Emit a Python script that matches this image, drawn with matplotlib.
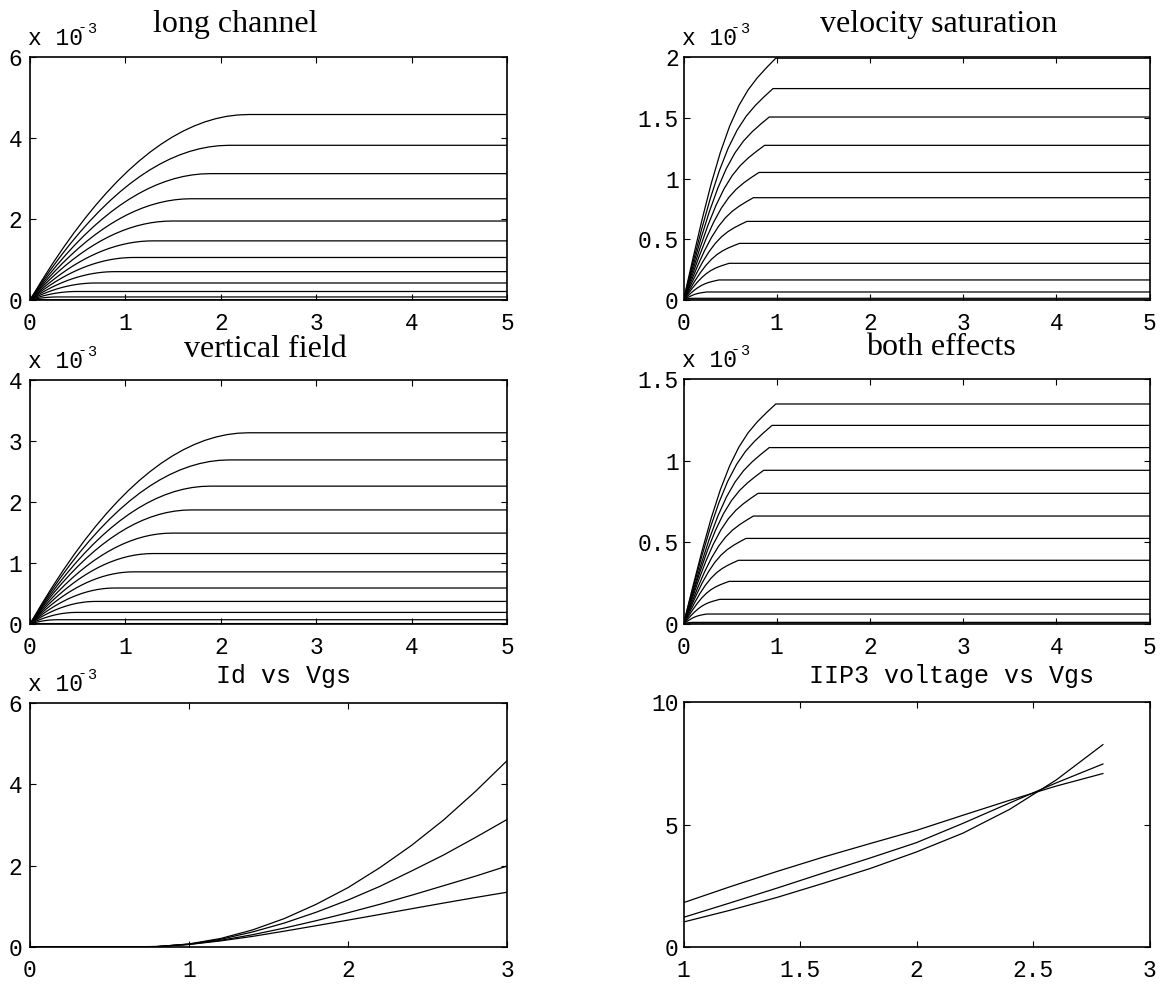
import numpy as np
import matplotlib
matplotlib.use('Agg')
import matplotlib.pyplot as plt
from matplotlib.ticker import MultipleLocator, FuncFormatter
from matplotlib.transforms import offset_copy

MONO = ['Liberation Mono', 'DejaVu Sans Mono']
SERIF = ['Liberation Serif', 'DejaVu Serif']
plt.rcParams['font.family'] = MONO

# gate voltages of the curve family (V)
vgs = [0.0, 0.2, 0.4, 0.6, 0.8, 1.0, 1.2, 1.4, 1.6, 1.8, 2.0, 2.2, 2.4, 2.6, 2.8, 3.0]

# saturation current at each Vgs (x 1e-3 A)
id_long = [0, 0, 0, 0, 0.01, 0.075, 0.21, 0.42, 0.70, 1.05, 1.46, 1.95, 2.50, 3.12, 3.82, 4.58]
id_vert = [0, 0, 0, 0, 0.007, 0.07, 0.19, 0.37, 0.59, 0.855, 1.155, 1.49, 1.87, 2.26, 2.69, 3.135]
id_vsat = [0, 0, 0, 0, 0.014, 0.066, 0.165, 0.302, 0.466, 0.647, 0.842, 1.05, 1.273, 1.506, 1.74, 1.99]
id_both = [0, 0, 0, 0, 0.01, 0.061, 0.151, 0.261, 0.39, 0.524, 0.661, 0.80, 0.941, 1.08, 1.216, 1.347]

# Vds where each curve goes flat (V)
knee_long = [0, 0, 0, 0, 0.09, 0.29, 0.49, 0.69, 0.89, 1.09, 1.29, 1.49, 1.69, 1.89, 2.09, 2.29]
knee_vert = knee_long
knee_vsat = [0, 0, 0, 0, 0.09, 0.25, 0.38, 0.49, 0.60, 0.68, 0.75, 0.81, 0.87, 0.92, 0.96, 0.99]
knee_both = [0, 0, 0, 0, 0.09, 0.25, 0.39, 0.49, 0.59, 0.67, 0.75, 0.80, 0.86, 0.92, 0.95, 0.99]

# shape of the rising part, as fraction of knee (x) and of saturation level (y)
round_u = [0, .05, .1, .15, .2, .25, .3, .35, .4, .45, .5, .55, .6, .65, .7, .75, .8, .85, .9, .95, 1.0]
round_v = [0, .0975, .19, .2775, .36, .4375, .51, .5775, .64, .6975, .75, .7975, .84, .8775,
           .91, .9375, .96, .9775, .99, .9975, 1.0]
sharp_u = [0, .1, .2, .3, .4, .5, .6, .7, .8, .9, 1.0]
sharp_v = [0, .168, .331, .481, .611, .719, .804, .869, .919, .961, 1.0]

vds_max = 5.0

# IIP3 voltage vs Vgs
vgs_iip3 = [1.0, 1.2, 1.4, 1.6, 1.8, 2.0, 2.2, 2.4, 2.6, 2.8]
iip3_a = [1.81, 2.46, 3.08, 3.67, 4.22, 4.76, 5.38, 5.99, 6.57, 7.08]
iip3_b = [1.21, 1.80, 2.40, 3.02, 3.63, 4.26, 5.05, 5.88, 6.70, 7.47]
iip3_c = [1.02, 1.50, 2.02, 2.60, 3.20, 3.88, 4.65, 5.62, 6.82, 8.26]

W, H = 1174, 985
fig = plt.figure(figsize=(W / 100, H / 100), dpi=100)


def px_axes(left, top, right, bottom):
    return fig.add_axes([left / W, 1 - bottom / H, (right - left) / W, (bottom - top) / H])


def setup(ax, xlim, ylim, xstep, ystep, ypad):
    ax.set_xlim(*xlim)
    ax.set_ylim(*ylim)
    ax.xaxis.set_major_locator(MultipleLocator(xstep))
    ax.yaxis.set_major_locator(MultipleLocator(ystep))
    fmt = FuncFormatter(lambda v, p: '%g' % v)
    ax.xaxis.set_major_formatter(fmt)
    ax.yaxis.set_major_formatter(fmt)
    ax.tick_params(direction='in', top=True, right=True, length=4, width=0.8,
                   labelsize=16.5, colors='black')
    ax.tick_params(axis='x', pad=8.5)
    ax.tick_params(axis='y', pad=ypad)
    for s in ax.spines.values():
        s.set_linewidth(1.2)


def title(ax, text, xfrac, up, serif):
    tr = offset_copy(ax.transAxes, fig=fig, x=0, y=up, units='dots')
    if serif:
        ax.text(xfrac, 1, text, transform=tr, ha='center', va='baseline',
                family=SERIF, fontsize=23)
    else:
        ax.text(xfrac, 1, text, transform=tr, ha='center', va='baseline',
                family=MONO, fontsize=18)


def exponent(ax):
    # MATLAB-style "x 10^-3" with the minus sitting on top of the 0
    ax.text(0, 1, 'x 10', transform=offset_copy(ax.transAxes, fig=fig, x=-2, y=12, units='dots'),
            ha='left', va='baseline', fontsize=16.5)
    ax.text(0, 1, '-', transform=offset_copy(ax.transAxes, fig=fig, x=52, y=26, units='dots'),
            ha='center', va='baseline', fontsize=11)
    ax.text(0, 1, '3', transform=offset_copy(ax.transAxes, fig=fig, x=57, y=24, units='dots'),
            ha='left', va='baseline', fontsize=11)


def family(ax, levels, knees, su, sv):
    for lev, kn in zip(levels, knees):
        x = list(kn * np.array(su)) + [vds_max]
        y = list(lev * np.array(sv)) + [lev]
        ax.plot(x, y, color='black', lw=0.9)


# long channel
ax1 = px_axes(30, 57, 507, 300)
family(ax1, id_long, knee_long, round_u, round_v)
setup(ax1, (0, 5), (0, 6), 1, 2, 5.5)
title(ax1, 'long channel', 0.43, 25, True)
exponent(ax1)

# velocity saturation
ax2 = px_axes(683.5, 57, 1149.5, 300)
family(ax2, id_vsat, knee_vsat, sharp_u, sharp_v)
setup(ax2, (0, 5), (0, 2), 1, 0.5, 3.5)
title(ax2, 'velocity saturation', 0.548, 25, True)
exponent(ax2)

# vertical field
ax3 = px_axes(30, 380, 507, 624)
family(ax3, id_vert, knee_vert, round_u, round_v)
setup(ax3, (0, 5), (0, 4), 1, 1, 5.5)
title(ax3, 'vertical field', 0.493, 23, True)
exponent(ax3)

# both effects
ax4 = px_axes(683.5, 379, 1149.5, 624)
family(ax4, id_both, knee_both, sharp_u, sharp_v)
setup(ax4, (0, 5), (0, 1.5), 1, 0.5, 3.5)
title(ax4, 'both effects', 0.552, 24, True)
exponent(ax4)

# Id vs Vgs
ax5 = px_axes(30, 703, 507, 947)
for ids in (id_long, id_vert, id_vsat, id_both):
    ax5.plot(vgs, ids, color='black', lw=0.9)
setup(ax5, (0, 3), (0, 6), 1, 2, 5.5)
title(ax5, 'Id vs Vgs', 0.532, 20, False)
exponent(ax5)

# IIP3 voltage vs Vgs
ax6 = px_axes(683.5, 702, 1149.5, 947)
for v in (iip3_a, iip3_b, iip3_c):
    ax6.plot(vgs_iip3, v, color='black', lw=0.9)
setup(ax6, (1, 3), (0, 10), 0.5, 5, 3.5)
title(ax6, 'IIP3 voltage vs Vgs', 0.576, 19, False)

fig.savefig('out.png', dpi=100)
